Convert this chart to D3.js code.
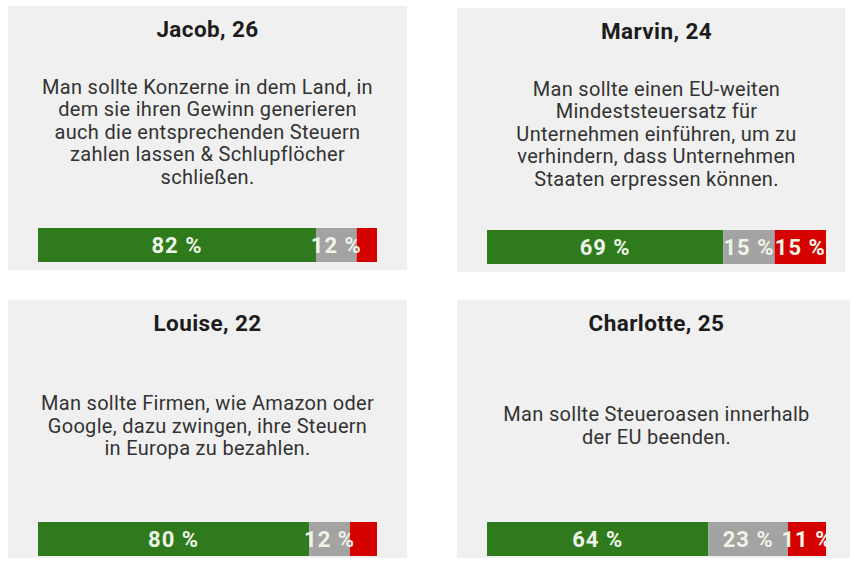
<!DOCTYPE html>
<html lang="de">
<head>
    <meta charset="UTF-8">
    <title>Steuern</title>
    <script src="https://d3js.org/d3.v7.min.js"></script>
    <style>
    body{
        margin: 0;
        background: #fff;
    }
    text {
        font-family: Roboto, "Noto Sans", sans-serif;
    }
    .title {
        font-size: 22.5px;
        font-weight: bold;
        letter-spacing: 0.4px;
        fill: #1c1c1c;
    }
    .desc {
        font-size: 20px;
        letter-spacing: 0.3px;
        fill: #333;
    }
    .label {
        font-size: 22px;
        font-weight: bold;
        letter-spacing: 1px;
        fill: #eef5e8;
    }
    </style>
</head>
<body>
    <script>
    var width = 852;
    var height = 563;

    // Daten
    var names = ["Jacob", "Marvin", "Louise", "Charlotte"];
    var ages = [26, 24, 22, 25];
    var statements = [
        ["Man sollte Konzerne in dem Land, in", "dem sie ihren Gewinn generieren", "auch die entsprechenden Steuern", "zahlen lassen & Schlupflöcher", "schließen."],
        ["Man sollte einen EU-weiten", "Mindeststeuersatz für", "Unternehmen einführen, um zu", "verhindern, dass Unternehmen", "Staaten erpressen können."],
        ["Man sollte Firmen, wie Amazon oder", "Google, dazu zwingen, ihre Steuern", "in Europa zu bezahlen."],
        ["Man sollte Steueroasen innerhalb", "der EU beenden."]
    ];
    var agree = [82, 69, 80, 64];
    var neutral = [12, 15, 12, 23];
    var disagree = [6, 15, 8, 11];

    var keys = ["agree", "neutral", "disagree"];
    var colors = ["#2e7a1c", "#a3a3a3", "#d50000"];

    // Position der Kacheln (Screenshot-Raster)
    var boxes = [
        {x: 8, y: 6, w: 399, h: 264},
        {x: 457, y: 8, w: 388, h: 264},
        {x: 8, y: 300, w: 399, h: 258},
        {x: 457, y: 300, w: 393, h: 258}
    ];

    var barW = 339, barH = 34;

    var svg = d3.select("body")
        .append("svg")
        .attr("width", width)
        .attr("height", height);

    var rows = names.map(function(n, i) {
        return {agree: agree[i], neutral: neutral[i], disagree: disagree[i]};
    });
    var stacked = d3.stack().keys(keys)(rows);

    var color = d3.scaleOrdinal().domain(keys).range(colors);

    names.forEach(function(name, i) {
        var b = boxes[i];
        var total = agree[i] + neutral[i] + disagree[i];

        // jeder Balken füllt die volle Breite
        var x = d3.scaleLinear()
            .domain([0, total])
            .range([0, barW]);

        var g = svg.append("g")
            .attr("transform", "translate(" + b.x + "," + b.y + ")");

        g.append("rect")
            .attr("width", b.w)
            .attr("height", b.h)
            .attr("fill", "#f0f0f0");

        var bx = 30;
        var cx = bx + barW / 2;

        g.append("text")
            .attr("class", "title")
            .attr("x", cx)
            .attr("y", 31)
            .attr("text-anchor", "middle")
            .text(name + ", " + ages[i]);

        var lines = statements[i];
        var lh = 22.5;
        var y0 = 126 - (lines.length - 1) * lh / 2 + 6.5;
        g.append("text")
            .attr("class", "desc")
            .attr("text-anchor", "middle")
            .selectAll("tspan")
            .data(lines)
            .join("tspan")
            .attr("x", cx)
            .attr("y", function(d, j) { return y0 + j * lh; })
            .text(function(d) { return d; });

        var bar = g.append("g")
            .attr("transform", "translate(" + bx + ",222)");

        bar.append("clipPath")
            .attr("id", "clip" + i)
            .append("rect")
            .attr("width", barW)
            .attr("height", barH);

        var segs = stacked.map(function(s) {
            return {key: s.key, x0: s[i][0], x1: s[i][1]};
        });

        bar.selectAll("rect.seg")
            .data(segs)
            .join("rect")
            .attr("class", "seg")
            .attr("x", function(d) { return x(d.x0); })
            .attr("width", function(d) { return x(d.x1) - x(d.x0); })
            .attr("height", barH)
            .attr("fill", function(d) { return color(d.key); });

        bar.append("g")
            .attr("clip-path", "url(#clip" + i + ")")
            .selectAll("text")
            .data(segs.filter(function(d) { return d.x1 - d.x0 >= 10; }))
            .join("text")
            .attr("class", "label")
            .attr("x", function(d) { return x((d.x0 + d.x1) / 2); })
            .attr("y", barH / 2 + 8)
            .attr("text-anchor", "middle")
            .text(function(d) { return (d.x1 - d.x0) + " %"; });
    });
    </script>
</body>
</html>
